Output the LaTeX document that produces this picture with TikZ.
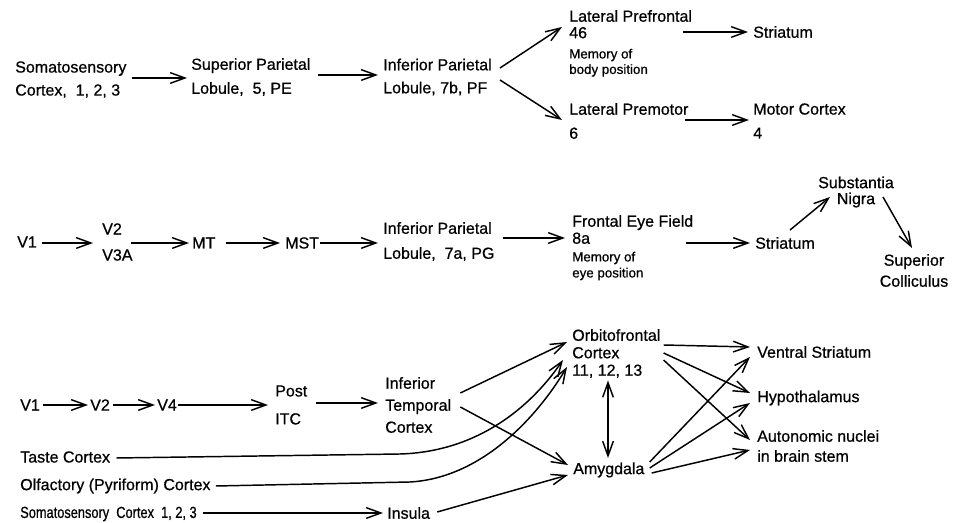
\documentclass[tikz,border=0pt]{standalone}
\usepackage{fontspec}
\setmainfont{Liberation Sans}[FakeBold=0.7]
\usetikzlibrary{arrows.meta,calc}
\begin{document}
\begin{tikzpicture}[x=0.75pt,y=-0.75pt,
  lbl/.style={inner sep=0pt, anchor=west, align=left, font=\fontsize{12}{14}\selectfont},
  clbl/.style={inner sep=0pt, anchor=center, align=center},
  arr/.style={-{Straight Barb[length=11pt,width=8pt]}, line width=1.1pt},
  darr/.style={{Straight Barb[length=11pt,width=8pt]}-{Straight Barb[length=11pt,width=8pt]}, line width=1.1pt}]
\useasboundingbox (0,0) rectangle (961,523);

% Row 1
\node[lbl, font=\fontsize{12}{17.25}\selectfont] (som1) at (15,79.5) {Somatosensory\\Cortex,~~1, 2, 3};
\node[lbl, font=\fontsize{12}{18}\selectfont] (spl) at (191,77) {Superior Parietal\\Lobule,~~5, PE};
\node[lbl, font=\fontsize{12}{17.25}\selectfont] (ipl1) at (383,77) {Inferior Parietal\\Lobule, 7b, PF};
\node[lbl, font=\fontsize{12}{12.4}\selectfont] (lpf) at (569,24.25) {Lateral Prefrontal\\46};
\node[lbl, font=\fontsize{10}{11.6}\selectfont] (lpfm) at (569,62.75) {Memory of\\body position};
\node[lbl] (str1) at (753,32) {Striatum};
\node[lbl, font=\fontsize{12}{18}\selectfont] (lpm) at (569,121) {Lateral Premotor\\6};
\node[lbl, font=\fontsize{12}{18}\selectfont] (mot) at (753,121) {Motor Cortex\\4};

% Row 2
\node[lbl] (v1b) at (17,242) {V1};
\node[lbl, font=\fontsize{12}{19.5}\selectfont] (v2b) at (102,242) {V2\\V3A};
\node[lbl] (mt) at (192,243) {MT};
\node[lbl] (mst) at (285,243) {MST};
\node[lbl, font=\fontsize{12}{18.75}\selectfont] (ipl2) at (383,241.5) {Inferior Parietal\\Lobule,~~7a, PG};
\node[lbl, font=\fontsize{12}{12.75}\selectfont] (fef) at (572,229.5) {Frontal Eye Field\\8a};
\node[lbl, font=\fontsize{10}{12}\selectfont] (fefm) at (572,266) {Memory of\\eye position};
\node[lbl] (str2) at (755,243) {Striatum};
\node[clbl, font=\fontsize{12}{12}\selectfont] (sn) at (856,192) {Substantia\\Nigra};
\node[clbl, font=\fontsize{12}{15.75}\selectfont] (sc) at (914,270.5) {Superior\\Colliculus};

% Row 3
\node[lbl] (v1c) at (20,405) {V1};
\node[lbl] (v2c) at (90,405) {V2};
\node[lbl] (v4c) at (157,405) {V4};
\node[lbl, font=\fontsize{12}{21}\selectfont] (post) at (275,405) {Post\\ITC};
\node[lbl, font=\fontsize{12}{16.5}\selectfont] (itc) at (385,405) {Inferior\\Temporal\\Cortex};
\node[lbl] (taste) at (20,457) {Taste Cortex};
\node[lbl] (olf) at (20,486) {Olfactory (Pyriform) Cortex};
\node[lbl, font=\fontsize{12}{14}\selectfont\addfontfeatures{FakeStretch=0.8}] (som3) at (20,514) {Somatosensory~~Cortex~~1, 2, 3};
\node[lbl] (insula) at (387,513) {Insula};
\node[lbl, font=\fontsize{12}{13.1}\selectfont] (ofc) at (572,353.5) {Orbitofrontal\\Cortex\\11, 12, 13};
\node[lbl] (amy) at (573,470) {Amygdala};
\node[lbl] (vs) at (757,352) {Ventral Striatum};
\node[lbl] (hyp) at (757,398) {Hypothalamus};
\node[lbl, font=\fontsize{12}{15}\selectfont] (aut) at (757,446) {Autonomic nuclei\\in brain stem};

% Row 1 connectors
\draw[arr] ($(som1.east)+(5,-1.5)$) -- ($(spl.west)+(-4,1)$);
\draw[arr] ($(spl.east)+(7,-2)$) -- ($(ipl1.west)+(-5,-2)$);
\draw[arr] ($(ipl1.east)+(8,-9)$) -- ($(lpf.west)+(-7,2.75)$);
\draw[arr] ($(ipl1.east)+(8,3)$) -- ($(lpm.west)+(-7,-1)$);
\draw[arr] ($(lpf.east)+(-9,7.75)$) -- ($(str1.west)+(-5,0)$);
\draw[arr] ($(lpm.east)+(-4,-1)$) -- ($(mot.west)+(-4,-1)$);

% Row 2 connectors
\draw[arr] ($(v1b.east)+(5,1)$) -- ($(v2b.west)+(-9,1)$);
\draw[arr] ($(v2b.east)+(-2,1)$) -- ($(mt.west)+(-3,0)$);
\draw[arr] ($(mt.east)+(10,0)$) -- ($(mst.west)+(-5,0)$);
\draw[arr] ($(mst.east)+(1,0)$) -- ($(ipl2.west)+(-5,1.5)$);
\draw[arr] ($(ipl2.east)+(8,-3.5)$) -- ($(fef.west)+(-7,8.5)$);
\draw[arr] ($(fef.east)+(-7,13.5)$) -- ($(str2.west)+(-5,0)$);
\draw[arr] ($(str2.west)+(35,-13)$) -- ($(sn.center)+(-26,5)$);
\draw[arr] ($(sn.center)+(27,5)$) -- ($(sc.center)+(-2,-22.5)$);

% Row 3 connectors
\draw[arr] ($(v1c.east)+(3,0)$) -- ($(v2c.west)+(-2,0)$);
\draw[arr] ($(v2c.east)+(3,0)$) -- ($(v4c.west)+(-2,0)$);
\draw[arr] ($(v4c.east)+(1,0)$) -- ($(post.west)+(-7,0)$);
\draw[arr] ($(post.east)+(8,-2)$) -- ($(itc.west)+(-7,-2)$);
\draw[arr] ($(itc.east)+(9,-12)$) -- ($(ofc.west)+(-5,-11.5)$);
\draw[arr] ($(itc.east)+(9,2)$) -- ($(amy.west)+(-5,-5)$);
\draw[arr] ($(taste.east)+(6,1)$) -- (400,454) .. controls (470,452) and (525,415) .. ($(ofc.west)+(-9,6.5)$);
\draw[arr] ($(olf.east)+(5,0)$) -- (410,482) .. controls (480,478) and (535,420) .. ($(ofc.west)+(-5,13.5)$);
\draw[arr] ($(som3.east)+(6,-1)$) -- ($(insula.west)+(-4,0)$);
\draw[arr] ($(insula.east)+(7,-1)$) -- ($(amy.west)+(-5,5)$);
\draw[darr] ($(ofc.west)+(36,27)$) -- ($(amy.west)+(35,-12)$);
\draw[arr] ($(ofc.east)+(3,-8.5)$) -- ($(vs.west)+(-7,-5)$);
\draw[arr] ($(ofc.east)+(3,-0.5)$) -- ($(hyp.west)+(-7,-5)$);
\draw[arr] ($(ofc.east)+(3,6.5)$) -- ($(aut.west)+(-7,-6)$);
\draw[arr] ($(amy.east)+(5,-8)$) -- ($(vs.west)+(-7,5)$);
\draw[arr] ($(amy.east)+(5,-2)$) -- ($(hyp.west)+(-7,5)$);
\draw[arr] ($(amy.east)+(7,3)$) -- ($(aut.west)+(-7,4)$);
\end{tikzpicture}
\end{document}
